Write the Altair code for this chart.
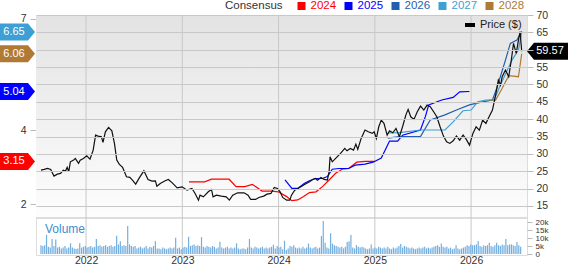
import altair as alt
import pandas as pd

# ---------------- data ----------------
PRICE_T = [2021.532, 2021.565, 2021.600, 2021.633, 2021.667, 2021.702, 2021.735, 2021.763, 2021.786, 2021.804,
           2021.820, 2021.837, 2021.871, 2021.888, 2021.922, 2021.939, 2021.973, 2022.007, 2022.041, 2022.074,
           2022.099, 2022.125, 2022.160, 2022.176, 2022.201, 2022.234, 2022.268, 2022.295, 2022.319, 2022.346,
           2022.380, 2022.420, 2022.455, 2022.482, 2022.516, 2022.550, 2022.601, 2022.644, 2022.685, 2022.720,
           2022.736, 2022.771, 2022.822, 2022.855, 2022.896, 2022.947, 2022.998, 2023.049, 2023.100, 2023.133,
           2023.168, 2023.184, 2023.219, 2023.270, 2023.303, 2023.320, 2023.354, 2023.405, 2023.456, 2023.489,
           2023.524, 2023.575, 2023.642, 2023.683, 2023.710, 2023.761, 2023.795, 2023.846, 2023.880, 2023.921,
           2023.955, 2023.988, 2024.016, 2024.043, 2024.084, 2024.117, 2024.134, 2024.168, 2024.219, 2024.270,
           2024.321, 2024.355, 2024.382, 2024.405, 2024.440, 2024.474, 2024.507, 2024.525, 2024.535, 2024.558,
           2024.593, 2024.644, 2024.688, 2024.711, 2024.746, 2024.779, 2024.803, 2024.823, 2024.858, 2024.898,
           2024.932, 2024.973, 2024.993, 2025.016, 2025.041, 2025.067, 2025.095, 2025.128, 2025.153, 2025.187,
           2025.220, 2025.255, 2025.288, 2025.322, 2025.346, 2025.373, 2025.407, 2025.441, 2025.475, 2025.509,
           2025.543, 2025.576, 2025.611, 2025.644, 2025.678, 2025.713, 2025.746, 2025.780, 2025.814, 2025.848,
           2025.882, 2025.917, 2025.950, 2025.984, 2026.019, 2026.052, 2026.086, 2026.120, 2026.154, 2026.187,
           2026.222, 2026.255, 2026.283, 2026.306, 2026.323, 2026.357, 2026.391, 2026.418, 2026.441, 2026.469,
           2026.492, 2026.509, 2026.526]
PRICE_V = [25.33, 25.53, 25.82, 25.53, 23.60, 24.18, 24.38, 25.33, 25.04, 26.11,
           24.84, 27.72, 28.21, 28.70, 27.26, 28.21, 28.70, 29.45, 28.50, 31.09,
           35.42, 35.13, 34.93, 33.31, 36.37, 37.64, 36.66, 33.02, 28.21, 26.97,
           26.11, 23.40, 23.23, 22.45, 21.29, 22.94, 25.13, 22.65, 22.16, 22.25,
           20.72, 21.50, 22.25, 22.65, 21.67, 20.23, 20.52, 19.56, 20.05, 18.61,
           16.68, 18.12, 17.63, 19.08, 19.77, 17.63, 18.12, 17.84, 17.63, 16.68,
           18.12, 18.79, 18.79, 18.12, 16.89, 16.89, 17.46, 17.84, 18.41, 18.61,
           20.34, 20.06, 19.08, 17.46, 16.68, 16.68, 18.12, 19.56, 20.34, 21.21,
           21.96, 22.65, 22.94, 22.45, 23.23, 22.65, 22.45, 24.84, 29.16, 27.72,
           28.70, 30.14, 31.58, 30.89, 31.58, 31.09, 32.82, 31.29, 34.47, 36.86,
           36.37, 35.91, 36.37, 34.47, 37.81, 39.74, 38.79, 35.42, 36.66, 36.08,
           37.35, 34.93, 37.81, 41.18, 42.82, 40.69, 39.94, 42.13, 43.77, 42.62,
           44.06, 43.57, 42.13, 40.69, 37.81, 35.13, 33.49, 33.02, 33.77, 35.13,
           33.97, 35.42, 34.18, 32.53, 35.91, 37.81, 36.86, 39.74, 38.79, 40.69,
           42.62, 46.94, 51.27, 49.83, 52.22, 54.15, 52.22, 57.03, 61.84, 58.96,
           62.79, 65.19, 59.57]

E2024_T = [2023.069, 2023.232, 2023.303, 2023.486, 2023.558, 2023.649, 2023.728, 2023.829, 2023.931, 2023.998,
           2024.084, 2024.138, 2024.199, 2024.260, 2024.321, 2024.389, 2024.456, 2024.525, 2024.593, 2024.660,
           2024.728, 2024.813, 2024.898, 2025.000]
E2024_V = [2.60, 2.60, 2.67, 2.67, 2.47, 2.47, 2.53, 2.35, 2.35, 2.33,
           2.20, 2.09, 2.11, 2.20, 2.31, 2.33, 2.47, 2.65, 2.83, 2.94,
           2.96, 3.13, 3.15, 3.15]
E2025_T = [2024.067, 2024.138, 2024.199, 2024.270, 2024.321, 2024.382, 2024.456, 2024.507, 2024.558, 2024.626,
           2024.728, 2024.796, 2024.898, 2024.982, 2025.067, 2025.108, 2025.153, 2025.237, 2025.288, 2025.474,
           2025.525, 2025.560, 2025.695, 2025.814, 2025.882, 2025.983]
E2025_V = [2.65, 2.42, 2.42, 2.56, 2.63, 2.69, 2.69, 2.74, 2.94, 2.96,
           2.96, 3.05, 3.08, 3.13, 3.24, 3.46, 3.70, 3.70, 3.86, 4.00,
           4.36, 4.68, 4.81, 4.88, 5.03, 5.04]
E2026_T = [2025.135, 2025.255, 2025.474, 2025.576, 2025.729, 2025.848, 2025.983, 2026.120, 2026.222, 2026.272,
           2026.357, 2026.408, 2026.476, 2026.526]
E2026_V = [3.78, 3.82, 3.82, 4.27, 4.41, 4.54, 4.68, 4.76, 4.81, 5.17,
           5.89, 6.34, 6.43, 6.67]
E2027_T = [2025.135, 2025.255, 2025.474, 2025.729, 2025.814, 2025.916, 2026.000, 2026.069, 2026.153, 2026.238,
           2026.306, 2026.425, 2026.492, 2026.526]
E2027_V = [3.92, 3.93, 4.00, 4.00, 4.22, 4.52, 4.54, 4.76, 4.81, 4.81,
           5.22, 5.89, 6.16, 6.65]
E2028_T = [2026.184, 2026.255, 2026.323, 2026.391, 2026.492, 2026.526]
E2028_V = [4.81, 4.81, 5.13, 5.47, 5.44, 6.06]

# weekly volume, thousands, starting mid-2021
VOL_START = 2021.532
VOLUME_K = [5.5, 5, 5.5, 12, 4.5, 4, 9.4, 5, 9, 4,
            4.5, 3.5, 4, 5, 3.5, 4, 6.7, 4, 3.5, 3.2,
            3.5, 6.7, 4, 4.5, 5, 4, 4.5, 5, 4, 4.5,
            9.4, 5, 5.5, 4.5, 5, 5.5, 4.5, 5, 5.5, 4.5,
            5, 11.4, 6, 8, 5, 5.5, 5, 17.5, 6, 5,
            4.5, 5, 3.5, 4, 4.5, 3.5, 4, 5, 3.5, 4.5,
            4, 5, 8, 3.5, 3.5, 3, 4, 3.5, 3, 3.5,
            4, 3.5, 4, 10.2, 3.5, 4, 3, 4, 4.5, 4,
            10.8, 5, 5.5, 6, 5, 5.5, 5, 10.5, 4.5, 4,
            5, 4.5, 4, 5, 4.5, 3.5, 4, 7.7, 4, 3.5,
            4, 4.5, 3.5, 4, 3.5, 4, 6.7, 3.5, 3, 3.5,
            3.5, 3, 4, 9.4, 4, 3.5, 4.5, 4, 3.5, 4,
            4.5, 3.5, 4, 3.5, 4, 4.5, 5.8, 3.5, 5, 4,
            4.5, 3, 8.3, 2.5, 3.5, 5, 4.5, 5.5, 4, 3.5,
            4, 3.5, 4.5, 3.5, 4, 6.5, 4, 3.5, 4, 4.5,
            3.5, 4, 11.2, 20.6, 7, 4, 3.5, 12.9, 6.5, 5.5,
            5, 4.5, 4, 4.5, 3.5, 4.5, 7.5, 8, 11.9, 4,
            3.5, 5.5, 4.5, 4, 4.5, 4, 3.5, 3, 3.5, 6,
            3.5, 4, 3.5, 4.5, 4, 3.5, 4, 3.5, 4.5, 3.5,
            3, 4, 3.5, 4, 5, 6.3, 4, 5, 4.5, 4,
            3.5, 4, 3.5, 3, 3.5, 4, 3.5, 4, 4.5, 3.5,
            4, 3.5, 4, 4.5, 5, 5.5, 4.5, 6.5, 4.5, 4,
            4.5, 3.5, 4, 3, 3.5, 5.5, 3.5, 3, 3.5, 4,
            4.5, 5.5, 5, 6, 5.5, 5.5, 6, 8.1, 5, 4.5,
            5.5, 5, 5.5, 7, 5, 4.5, 5.5, 7, 5.5, 5,
            6, 5.5, 9.4, 5.5, 6, 6, 5.5, 5, 7.5, 5.5, 4.5]

SERIES = ["2024", "2025", "2026", "2027", "2028"]
COLORS = ["#ff0000", "#0000ff", "#1f5fae", "#3d9fd3", "#b07a35"]
YEAR_TICKS = [2022, 2023, 2024, 2025, 2026]
PRICE_TICKS = [15, 20, 25, 30, 35, 40, 45, 50, 55, 60, 65, 70]
EPS_TICKS = [2, 4, 7]
VOL_TICKS = [0, 5, 10, 15, 20]
LAST_PRICE = 59.57
BADGE_V = [6.65, 6.06, 5.04, 3.15]
BADGE_LBL = ["6.65", "6.06", "5.04", "3.15"]
BADGE_C = ["#3d9fd3", "#b07a35", "#0000ff", "#ff0000"]

# ---------------- layout ----------------
W, H = 491, 240
PH = 202
FONT = "Liberation Sans"
LEGEND_X = [265.5, 312.5, 359.5, 406.5, 453.5]
LEGEND_Y = -9

price_df = pd.DataFrame({"t": PRICE_T, "p": PRICE_V})
eps_rows = []
for name, ts, vs in [("2024", E2024_T, E2024_V), ("2025", E2025_T, E2025_V), ("2026", E2026_T, E2026_V),
                     ("2027", E2027_T, E2027_V), ("2028", E2028_T, E2028_V)]:
    for t, v in zip(ts, vs):
        eps_rows.append({"s": name, "t": t, "e": v})
eps_df = pd.DataFrame(eps_rows)
vol_df = pd.DataFrame({"t": [VOL_START + i * 7 / 365.25 for i in range(len(VOLUME_K))], "v": VOLUME_K})
one = pd.DataFrame({"a": [0]})

x_scale = alt.Scale(domain=[2021.532, 2026.529], nice=False, zero=False)
x_axis = alt.Axis(values=YEAR_TICKS, format="d", title=None, grid=False, ticks=False, domain=False,
                  labelFontSize=10.5, labelColor="#333333", labelPadding=0, labelFont=FONT)
price_scale = alt.Scale(domain=[11.83, 70.0], range=[PH, 0], nice=False, zero=False)
eps_scale = alt.Scale(domain=[1.649, 7.108], range=[PH, 0], nice=False, zero=False)
vol_scale = alt.Scale(domain=[0, 21.875], range=[H - 1, PH + 2], nice=False, zero=False)

grad = alt.Gradient(gradient="linear",
                    stops=[alt.GradientStop(color="#e3e3e3", offset=0),
                           alt.GradientStop(color="#fdfdfd", offset=1)],
                    x1=0, x2=0, y1=0, y2=1)

bg = alt.Chart(one).mark_rect(color=grad).encode(
    x=alt.value(0), x2=alt.value(W), y=alt.value(0), y2=alt.value(PH))
sep = alt.Chart(one).mark_rect(color="#dddddd").encode(
    x=alt.value(0), x2=alt.value(W), y=alt.value(PH), y2=alt.value(PH + 2))

# vertical year grid lines (thin bars spanning the whole plot height)
vgrid = alt.Chart(pd.DataFrame({"t": YEAR_TICKS})).mark_bar(size=1, color="#c8c8c8").encode(
    x=alt.X("t:Q", scale=x_scale, axis=x_axis),
    y=alt.value(0), y2=alt.value(H))

vol = alt.Chart(vol_df).mark_bar(size=1.2, color="#72aee0").encode(
    x=alt.X("t:Q", scale=x_scale, axis=x_axis),
    y=alt.Y("v:Q", scale=vol_scale,
            axis=alt.Axis(orient="right", values=VOL_TICKS, title=None, grid=False, domain=False,
                          tickSize=5, tickColor="#bbbbbb", labelPadding=3, labelFontSize=8,
                          labelColor="#333333", labelOverlap=False, labelFont=FONT,
                          labelExpr="datum.value == 0 ? '0' : datum.value + 'k'")))

vol_label = alt.Chart(one).mark_text(text="Volume", align="left", baseline="middle", fontSize=12,
                                     color="#3a8fd0", font=FONT).encode(
    x=alt.value(9), y=alt.value(214))

eps = alt.Chart(eps_df).mark_line(strokeWidth=1.2).encode(
    x=alt.X("t:Q", scale=x_scale, axis=x_axis),
    y=alt.Y("e:Q", scale=eps_scale,
            axis=alt.Axis(orient="left", values=EPS_TICKS, title=None, grid=False, domain=False,
                          tickSize=6, tickColor="#bbbbbb", labelPadding=4, labelFontSize=10.5,
                          labelColor="#333333", labelFont=FONT)),
    color=alt.Color("s:N", scale=alt.Scale(domain=SERIES, range=COLORS), legend=None),
    detail="s:N")

price = alt.Chart(price_df).mark_line(color="#111111", strokeWidth=1.2).encode(
    x=alt.X("t:Q", scale=x_scale, axis=x_axis),
    y=alt.Y("p:Q", scale=price_scale,
            axis=alt.Axis(orient="right", values=PRICE_TICKS, title=None, grid=True, gridColor="#c8c8c8",
                          gridWidth=1, domain=False, zindex=1,
                          tickSize=6, tickColor="#bbbbbb", labelPadding=3, labelFontSize=10.5,
                          labelColor="#333333", labelFont=FONT,
                          labelExpr="datum.value == 60 ? '' : datum.label")))

price_key = alt.Chart(one).mark_rect(color="#000000").encode(
    x=alt.value(429), x2=alt.value(439), y=alt.value(8), y2=alt.value(12))
price_key_txt = alt.Chart(one).mark_text(text="Price ($)", align="left", baseline="middle", fontSize=11,
                                         color="#222222", font=FONT).encode(
    x=alt.value(444), y=alt.value(10))

# top legend
legend_layers = [alt.Chart(one).mark_text(text="Consensus", align="left", baseline="middle", fontSize=11.5,
                                          color="#333333", font=FONT).encode(
    x=alt.value(189), y=alt.value(LEGEND_Y))]
for name, col, lx in zip(SERIES, COLORS, LEGEND_X):
    legend_layers.append(alt.Chart(one).mark_square(color=col, size=64, filled=True, opacity=1).encode(
        x=alt.value(lx), y=alt.value(LEGEND_Y)))
    legend_layers.append(alt.Chart(one).mark_text(text=name, align="left", baseline="middle", fontSize=11.5,
                                                  color=col, font=FONT).encode(
        x=alt.value(lx + 9), y=alt.value(LEGEND_Y)))

# badges
badge_df = pd.DataFrame({"v": BADGE_V, "lbl": BADGE_LBL, "c": BADGE_C})
LEFT_SHAPE = "M-1,-0.486L0.6,-0.486L1,0L0.6,0.486L-1,0.486Z"
badges = alt.Chart(badge_df).mark_point(shape=LEFT_SHAPE, filled=True, size=1225, opacity=1,
                                        strokeWidth=0).encode(
    x=alt.value(-18.5),
    y=alt.Y("v:Q", scale=eps_scale, axis=None),
    color=alt.Color("c:N", scale=None))
badge_txt = alt.Chart(badge_df).mark_text(color="white", fontSize=11, align="center", baseline="middle",
                                          font=FONT).encode(
    x=alt.value(-22), y=alt.Y("v:Q", scale=eps_scale, axis=None), text="lbl:N")

last_df = pd.DataFrame({"p": [LAST_PRICE], "lbl": [f"{LAST_PRICE:.2f}"]})
RIGHT_SHAPE = "M-1,0L-0.66,-0.415L1,-0.415L1,0.415L-0.66,0.415Z"
last_badge = alt.Chart(last_df).mark_point(shape=RIGHT_SHAPE, filled=True, size=1681, opacity=1,
                                           color="#000000", strokeWidth=0).encode(
    x=alt.value(511.5), y=alt.Y("p:Q", scale=price_scale, axis=None))
last_txt = alt.Chart(last_df).mark_text(color="white", fontSize=11, align="center", baseline="middle",
                                        font=FONT).encode(
    x=alt.value(514), y=alt.Y("p:Q", scale=price_scale, axis=None), text="lbl:N")

chart = alt.layer(
    bg, sep, vgrid, vol, vol_label, eps, price, price_key, price_key_txt,
    *legend_layers, badges, badge_txt, last_badge, last_txt
).resolve_scale(y="independent").properties(
    width=W, height=H,
    padding={"left": 36, "top": 15, "right": 41, "bottom": 9},
    autosize=alt.AutoSizeParams(type="none"),
    background="white",
).configure_view(stroke="#c8c8c8", strokeWidth=1).configure(font=FONT)

chart.save("out.html", embed_options={"renderer": "svg", "actions": False})
